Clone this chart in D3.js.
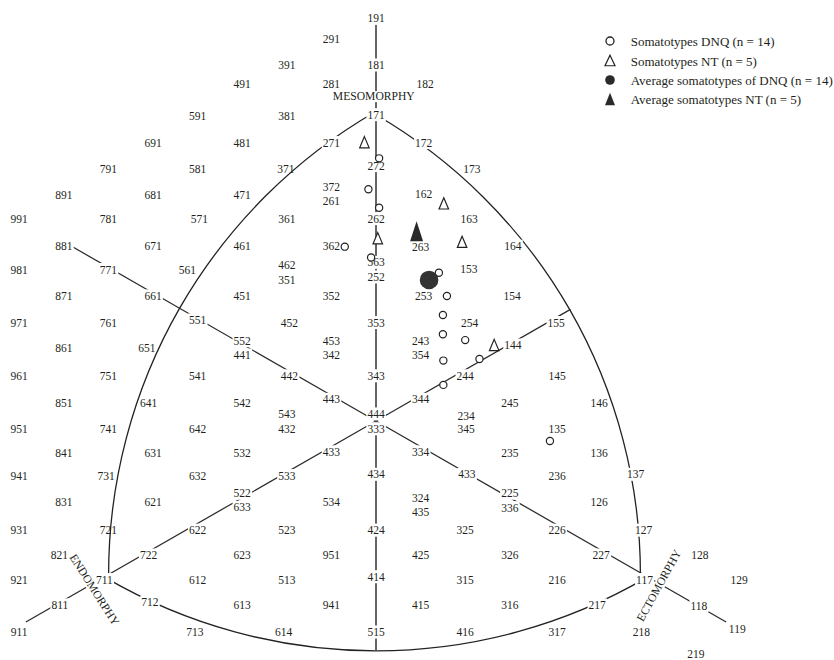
<!DOCTYPE html>
<html><head><meta charset="utf-8">
<script src="https://cdn.jsdelivr.net/npm/d3@7"></script>
<style>
body{margin:0;background:#fff;}
svg{display:block;font-family:"Liberation Serif","Times New Roman",serif;}
</style></head><body>
<svg id="chart" width="834" height="660"></svg>
<script>
// Somatochart grid labels: [text, X, Y] with X = ecto - endo, Y = 2*meso - (endo + ecto), as printed
const somatotypeLabels = [
 ["191",0,16],
 ["291",-1,15.18],
 ["391",-2,14.18],["181",0,14.18],
 ["491",-3,13.44],["281",-1,13.44],["182",1.1,13.44],
 ["591",-4,12.17],["381",-2,12.17],["171",0,12.24],
 ["691",-5,11.15],["481",-3,11.15],["271",-1,11.15],["172",1.07,11.15],
 ["791",-6,10.1],["581",-4,10.1],["371",-2.02,10.1],["272",0,10.25],["173",2.15,10.1],
 ["891",-7,9.12],["681",-5,9.12],["471",-3,9.12],["372",-1,9.43],["261",-1,8.88],["162",1.07,9.14],
 ["991",-8,8.18],["781",-6,8.18],["571",-3.96,8.18],["361",-2,8.18],["262",0,8.18],["163",2.09,8.18],
 ["881",-7,7.1],["671",-5,7.1],["461",-3,7.1],["362",-1,7.1],["263",1,7.08],["164",3.07,7.1],
 ["981",-8,6.19],["771",-6,6.19],["561",-4.23,6.19],["462",-2,6.35],["351",-2,5.78],["363",0,6.47],["252",0,5.9],["153",2.08,6.21],
 ["871",-7,5.16],["661",-5,5.16],["451",-3,5.16],["352",-1,5.16],["253",1.07,5.16],["154",3.05,5.16],
 ["971",-8,4.12],["761",-6,4.12],["551",-4,4.22],["452",-1.94,4.12],["353",0,4.12],["254",2.1,4.12],["155",4.04,4.12],
 ["861",-7,3.11],["651",-5.14,3.11],["552",-3,3.41],["441",-3,2.85],["453",-1,3.41],["342",-1,2.85],["243",1,3.41],["354",1,2.85],["144",3.07,3.24],
 ["961",-8,2.04],["751",-6,2.04],["541",-4,2.04],["442",-1.94,2.04],["343",0,2.04],["244",2,2.04],["145",4.06,2.04],
 ["851",-7,0.99],["641",-5.1,0.99],["542",-3,0.99],["443",-1,1.12],["344",1,1.12],["245",3,0.99],["146",5,0.99],
 ["951",-8,-0.03],["741",-6,-0.03],["642",-4,-0.03],["543",-2,0.55],["432",-2,-0.03],["444",0,0.55],["333",0,-0.03],["234",2.02,0.47],["345",2.02,-0.03],["135",4.06,-0.03],
 ["841",-7,-0.98],["631",-5,-0.98],["532",-3,-0.98],["433",-1,-0.93],["334",1,-0.93],["235",3,-0.98],["136",5,-0.98],
 ["941",-8,-1.86],["731",-6.05,-1.86],["632",-4,-1.86],["533",-2,-1.86],["434",0,-1.81],["433",2.04,-1.81],["236",4.06,-1.86],["137",5.82,-1.81],
 ["831",-7,-2.89],["621",-5,-2.89],["522",-3,-2.55],["633",-3,-3.1],["534",-1,-2.88],["324",1,-2.75],["435",1,-3.27],["225",3,-2.55],["336",3,-3.11],["126",5,-2.89],
 ["931",-8,-3.99],["721",-6,-3.99],["622",-4,-3.99],["523",-2,-3.99],["424",0,-3.99],["325",2,-3.99],["226",4.06,-3.99],["127",6,-3.99],
 ["821",-7.1,-4.96],["722",-5.1,-4.96],["623",-3,-4.96],["951",-1,-4.96],["425",1,-4.96],["326",3,-4.96],["227",5.05,-4.96],["128",7.26,-4.96],
 ["921",-8,-5.92],["711",-6.09,-5.92],["612",-4,-5.92],["513",-2,-5.92],["414",0,-5.81],["315",2,-5.92],["216",4.06,-5.92],["117",6.02,-5.92],["129",8.14,-5.92],
 ["811",-7.09,-6.91],["712",-5.07,-6.81],["613",-3,-6.91],["941",-1,-6.91],["415",1,-6.91],["316",3,-6.91],["217",4.96,-6.91],["118",7.24,-6.95],
 ["911",-8,-7.97],["713",-4.06,-7.97],["614",-2.07,-7.97],["515",0,-7.97],["416",2,-7.97],["317",4.06,-7.97],["218",5.95,-7.97],["119",8.1,-7.85],
 ["219",7.17,-8.84]
];
// labels the outline crosses without a gap
const noGapLabels = ["731","721","651","641","371"];

// axis names: [text, X, Y, angle]
const axisNames = [["MESOMORPHY",-0.05,12.67,0],["ENDOMORPHY",-6.32,-6.6,57.5],["ECTOMORPHY",6.35,-6.43,-61]];

// outline vertices (somatotypes 171, 711, 117)
const vertexMeso = [0,12], vertexEndo = [-6,-6], vertexEcto = [6,-6];
// axis rays [from, to] in X/Y units
const axisRays = [
 [[0,0],[-7,7]],
 [[0,0],[4.36,4.36]],
 [[0,0],[-7.85,-7.85]],
 [[0,0],[7.85,-7.85]]
];
const mesoAxis = [[0,15.7],[0,-8.97]];

// Somatotypes DNQ (n = 14)
const dnqX = [0.07,-0.17,0.07,-0.70,-0.11,1.41,1.59,1.50,1.50,2.00,1.51,2.32,1.51,3.90];
const dnqY = [10.26,9.05,8.33,6.81,6.39,5.79,4.88,4.14,3.39,3.16,2.36,2.42,1.41,-0.78];
// Somatotypes NT (n = 5)
const ntX = [-0.26,1.52,0.04,1.93,2.65];
const ntY = [10.89,8.50,7.14,7.00,2.97];
// averages
const avgDnq = [1.19,5.51];
const avgNt = [0.91,7.41];

const legendLabels = ["Somatotypes DNQ (n = 14)","Somatotypes NT (n = 5)","Average somatotypes of DNQ (n = 14)","Average somatotypes NT (n = 5)"];

const svg = d3.select("#chart");
const x = d3.scaleLinear().domain([-8,8]).range([19.2,732.8]);
const y = d3.scaleLinear().domain([-8,16]).range([625.8,11.4]);
const P = d => [x(d[0]), y(d[1])];
const ink = "#231f20";

function arcD(c, a, b, r){
  const a0 = Math.atan2(a[1]-c[1], a[0]-c[0]);
  const a1 = Math.atan2(b[1]-c[1], b[0]-c[0]);
  let d = a1 - a0;
  while (d > Math.PI) d -= 2*Math.PI;
  while (d < -Math.PI) d += 2*Math.PI;
  const p = d3.path();
  p.moveTo(c[0] + r*Math.cos(a0), c[1] + r*Math.sin(a0));
  p.arc(c[0], c[1], r, a0, a1, d < 0);
  return p.toString();
}

const lines = svg.append("g").attr("fill","none");
const M = P(vertexMeso), N = P(vertexEndo), E = P(vertexEcto);
lines.append("path").attr("d", arcD(E, M, N, 535)).attr("stroke","#222").attr("stroke-width",1.3);
lines.append("path").attr("d", arcD(N, M, E, 532)).attr("stroke","#222").attr("stroke-width",1.3);
lines.append("path").attr("d", arcD(M, N, E, 537)).attr("stroke","#222").attr("stroke-width",1.3);

const line = d3.line().x(d=>x(d[0])).y(d=>y(d[1]));
lines.selectAll("path.ray").data(axisRays).join("path").attr("class","ray")
  .attr("d", line).attr("stroke","#2a2a2a").attr("stroke-width",1.25);
lines.append("path").attr("d", line(mesoAxis)).attr("stroke","#4a4a4a").attr("stroke-width",1.7);

// grid labels with knock-out background
const lab = svg.append("g").attr("font-size",11.5).attr("fill",ink).attr("text-anchor","middle");
somatotypeLabels.forEach(([t,X,Y]) => {
  const g = lab.append("g").attr("transform",`translate(${x(X)},${y(Y)+7})`);
  const txt = g.append("text").attr("dominant-baseline","central").text(t);
  if (!noGapLabels.includes(t)) {
    const bb = txt.node().getBBox();
    g.insert("rect","text").attr("x",bb.x-1).attr("y",bb.y-0.5).attr("width",bb.width+2).attr("height",bb.height+1).attr("fill","#fff");
  }
});
axisNames.forEach(([t,X,Y,a]) => {
  const g = lab.append("g").attr("transform",`translate(${x(X)},${y(Y)}) rotate(${a})`).attr("font-size",11.6);
  const txt = g.append("text").attr("dominant-baseline","central").text(t);
  const bb = txt.node().getBBox();
  g.insert("rect","text").attr("x",bb.x-1).attr("y",bb.y+1).attr("width",bb.width+2).attr("height",bb.height-2).attr("fill","#fff");
});

function tri(w,h){ return `M0,${-h/2}L${w/2},${h/2}L${-w/2},${h/2}Z`; }

const marks = svg.append("g");
marks.selectAll("circle.dnq").data(d3.range(dnqX.length)).join("circle").attr("class","dnq")
  .attr("cx", i => x(dnqX[i])).attr("cy", i => y(dnqY[i])).attr("r",3.6)
  .attr("fill","#fff").attr("stroke","#222").attr("stroke-width",1.2);
marks.selectAll("path.nt").data(d3.range(ntX.length)).join("path").attr("class","nt")
  .attr("transform", i => `translate(${x(ntX[i])},${y(ntY[i])})`).attr("d", tri(9.5,11.2))
  .attr("fill","#fff").attr("stroke","#222").attr("stroke-width",1.2).attr("stroke-linejoin","miter");
marks.append("circle").attr("cx",x(avgDnq[0])).attr("cy",y(avgDnq[1])).attr("r",9.3).attr("fill","#333");
marks.append("path").attr("transform",`translate(${x(avgNt[0])},${y(avgNt[1])})`).attr("d",tri(13,20)).attr("fill","#2a2a2a");

// legend
const legendRows = [41,60.5,80,99];
const leg = svg.append("g");
leg.append("circle").attr("cx",610).attr("cy",legendRows[0]).attr("r",4).attr("fill","#fff").attr("stroke","#222").attr("stroke-width",1.3);
leg.append("path").attr("transform",`translate(610,${legendRows[1]})`).attr("d",tri(10,10.5)).attr("fill","#fff").attr("stroke","#222").attr("stroke-width",1.2);
leg.append("circle").attr("cx",610).attr("cy",legendRows[2]).attr("r",4.8).attr("fill","#2a2a2a");
leg.append("path").attr("transform",`translate(610,${legendRows[3]})`).attr("d",tri(10,12.7)).attr("fill","#2a2a2a");
leg.selectAll("text").data(legendLabels).join("text")
  .attr("x",630.7).attr("y",(d,i)=>legendRows[i]+0.7).attr("dominant-baseline","central")
  .attr("font-size",13).attr("fill",ink).text(d=>d);
</script>
</body></html>
